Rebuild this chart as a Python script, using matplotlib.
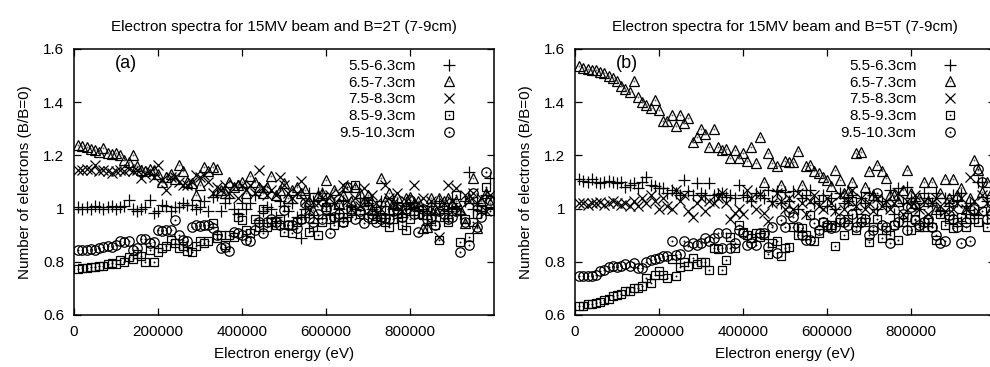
import numpy as np
import matplotlib
matplotlib.use('Agg')
import matplotlib.pyplot as plt

plt.rcParams['font.family'] = ['Liberation Sans', 'DejaVu Sans']

# electron energy grid (eV), one point every 10 keV
energy = np.arange(10000, 1000000, 10000)

labels = ['5.5-6.3cm', '6.5-7.3cm', '7.5-8.3cm', '8.5-9.3cm', '9.5-10.3cm']
titles = ['Electron spectra for 15MV beam and B=2T (7-9cm)',
          'Electron spectra for 15MV beam and B=5T (7-9cm)']
panel_tags = ['(a)', '(b)']
x_ticks = [0, 200000, 400000, 600000, 800000]
y_ticks = [0.6, 0.8, 1.0, 1.2, 1.4, 1.6]
y_tick_labels = ['0.6', '0.8', '1', '1.2', '1.4', '1.6']

# ---- panel (a): B = 2T ----
a_plus = [1.005, 1.0, 1.005, 1.0, 1.01, 1.005, 1.0, 1.005, 1.01, 1.0,
          1.005, 1.01, 1.032, 1.0, 0.99, 1.0, 1.005, 1.032, 0.982, 0.99,
          1.013, 1.01, 0.99, 1.007, 1.007, 1.02, 1.013, 1.013, 1.0, 1.007,
          1.03, 0.99, 1.045, 1.05, 0.99, 1.02, 1.04, 1.0, 0.98, 1.02,
          1.0, 1.02, 1.05, 0.957, 0.99, 1.007, 1.0, 0.97, 1.03, 1.01,
          0.99, 1.02, 0.97, 0.888, 1.0, 1.057, 1.03, 1.06, 1.057, 1.01,
          0.98, 1.02, 1.0, 1.03, 0.97, 1.01, 1.0, 1.04, 0.98, 1.02,
          1.0, 0.99, 1.03, 1.01, 0.98, 1.0, 1.02, 0.97, 1.01, 1.0,
          1.02, 0.99, 1.0, 0.94, 1.01, 0.98, 1.03, 1.0, 0.99, 1.02,
          1.0, 0.98, 1.03, 1.139, 1.0, 1.02, 0.99, 1.05, 1.114]
a_tri = [1.239, 1.235, 1.23, 1.225, 1.22, 1.214, 1.227, 1.21, 1.205, 1.208,
         1.2, 1.183, 1.175, 1.2, 1.16, 1.145, 1.14, 1.15, 1.145, 1.13,
         1.1, 1.12, 1.13, 1.11, 1.164, 1.14, 1.1, 1.095, 1.051, 1.09,
         1.158, 1.14, 1.158, 1.15, 1.07, 1.06, 1.1, 1.08, 1.09, 1.1,
         1.06, 1.123, 1.1, 1.08, 1.06, 1.08, 1.123, 1.05, 1.07, 1.097,
         1.04, 1.07, 1.08, 1.06, 1.07, 1.03, 0.995, 1.05, 1.06, 1.108,
         1.04, 1.07, 1.02, 1.05, 1.08, 1.03, 1.08, 1.06, 1.03, 1.05,
         1.0, 0.976, 1.114, 1.03, 1.06, 1.02, 1.045, 1.0, 1.04, 1.045,
         1.02, 1.03, 0.926, 0.93, 1.04, 1.0, 1.04, 1.03, 1.04, 1.02,
         1.03, 1.0, 0.946, 1.04, 1.114, 0.926, 1.03, 1.06, 1.02]
a_cross = [1.145, 1.145, 1.15, 1.145, 1.164, 1.14, 1.145, 1.14, 1.135, 1.14,
           1.145, 1.14, 1.15, 1.14, 1.145, 1.114, 1.13, 1.14, 1.12, 1.164,
           1.107, 1.07, 1.12, 1.12, 1.1, 1.09, 1.09, 1.1, 1.126, 1.12,
           1.126, 1.1, 1.057, 1.08, 1.07, 1.09, 1.06, 1.09, 1.04, 1.09,
           1.07, 1.09, 1.06, 1.145, 1.08, 1.05, 1.07, 1.05, 1.12, 1.09,
           1.057, 1.04, 1.06, 1.105, 1.03, 1.0, 1.026, 1.02, 1.04, 1.03,
           1.05, 1.02, 1.06, 1.09, 1.03, 1.0, 1.04, 1.01, 1.076, 1.03,
           1.05, 1.02, 1.0, 1.09, 1.04, 1.02, 1.06, 0.99, 1.03, 1.01,
           1.09, 1.02, 1.04, 1.0, 1.03, 0.99, 0.894, 1.02, 1.09, 1.03,
           1.076, 1.0, 1.05, 1.03, 1.06, 1.02, 1.04, 0.99, 1.05]
a_square = [0.773, 0.775, 0.775, 0.78, 0.78, 0.785, 0.785, 0.79, 0.795, 0.79,
            0.807, 0.8, 0.819, 0.81, 0.829, 0.82, 0.8, 0.844, 0.8, 0.838,
            0.85, 0.86, 0.882, 0.87, 0.85, 0.86, 0.84, 0.838, 0.86, 0.88,
            0.87, 0.88, 0.945, 0.89, 0.9, 0.863, 0.9, 0.894, 0.97, 0.957,
            0.92, 0.907, 0.96, 0.93, 1.0, 0.932, 0.95, 0.938, 0.96, 0.913,
            0.94, 0.907, 0.95, 0.96, 0.982, 0.913, 0.93, 0.9, 0.95, 1.007,
            0.96, 0.938, 0.97, 0.95, 0.97, 0.99, 1.09, 0.98, 1.026, 1.03,
            0.96, 0.99, 0.97, 0.95, 0.932, 0.96, 0.98, 0.94, 0.92, 0.96,
            0.99, 0.98, 0.976, 0.976, 0.96, 0.94, 0.882, 0.97, 0.95, 0.99,
            1.051, 0.876, 0.96, 0.894, 0.951, 0.98, 1.0, 1.082, 0.99]
a_circle = [0.844, 0.845, 0.845, 0.848, 0.845, 0.85, 0.855, 0.86, 0.855, 0.865,
            0.878, 0.875, 0.88, 0.844, 0.85, 0.884, 0.885, 0.87, 0.875, 0.92,
            0.915, 0.92, 0.92, 0.957, 0.9, 0.882, 0.88, 0.93, 0.938, 0.935,
            0.94, 0.938, 0.926, 0.9, 0.85, 0.857, 0.84, 0.913, 0.91, 0.9,
            0.882, 0.88, 0.92, 0.951, 0.907, 0.951, 0.96, 0.95, 0.94, 0.995,
            0.938, 0.94, 0.926, 0.96, 1.02, 0.963, 0.95, 0.98, 0.96, 1.0,
            0.907, 0.97, 0.98, 0.95, 1.082, 1.0, 0.96, 0.99, 0.945, 0.97,
            0.98, 0.95, 0.96, 0.963, 0.96, 0.99, 1.0, 0.97, 1.0, 1.032,
            0.98, 0.913, 1.0, 0.96, 0.97, 0.938, 0.99, 0.98, 0.96, 0.97,
            0.99, 0.838, 0.95, 0.863, 1.057, 0.932, 0.97, 1.139, 1.032]

# ---- panel (b): B = 5T ----
b_plus = [1.11, 1.105, 1.1, 1.11, 1.1, 1.095, 1.1, 1.105, 1.1, 1.095,
          1.1, 1.08, 1.09, 1.095, 1.077, 1.1, 1.12, 1.09, 1.084, 1.078,
          1.078, 1.057, 1.07, 1.06, 1.05, 1.107, 1.065, 1.05, 1.096, 1.06,
          1.05, 1.095, 1.05, 1.055, 1.06, 1.045, 1.05, 1.04, 1.09, 1.05,
          1.045, 1.03, 1.06, 1.05, 1.04, 1.07, 1.03, 1.067, 1.02, 1.064,
          1.03, 1.067, 1.0, 1.04, 1.05, 1.07, 1.02, 1.03, 1.05, 1.01,
          1.04, 1.0, 1.06, 1.02, 1.03, 1.05, 1.0, 1.04, 1.02, 1.06,
          1.05, 1.0, 1.03, 1.01, 1.07, 0.98, 1.077, 1.02, 1.08, 1.04,
          1.03, 1.0, 1.06, 1.04, 1.02, 1.057, 0.99, 1.04, 1.01, 1.05,
          1.03, 1.06, 1.01, 1.02, 0.98, 1.1, 1.1, 1.03, 1.05]
b_tri = [1.535, 1.53, 1.525, 1.52, 1.52, 1.515, 1.51, 1.5, 1.49, 1.48,
         1.46, 1.45, 1.44, 1.48, 1.42, 1.4, 1.39, 1.38, 1.41, 1.37,
         1.33, 1.33, 1.35, 1.31, 1.35, 1.32, 1.34, 1.25, 1.27, 1.3,
         1.28, 1.23, 1.3, 1.23, 1.22, 1.225, 1.19, 1.22, 1.19, 1.21,
         1.18, 1.23, 1.17, 1.27, 1.1, 1.21, 1.17, 1.16, 1.09, 1.18,
         1.175, 1.175, 1.215, 1.09, 1.16, 1.165, 1.14, 1.135, 1.12, 1.107,
         1.085, 1.145, 1.107, 1.06, 1.064, 1.1, 1.21, 1.214, 1.08, 1.14,
         1.05, 1.164, 1.14, 1.115, 1.05, 1.05, 1.03, 1.07, 1.145, 1.06,
         1.02, 1.04, 1.1, 1.03, 1.1, 1.0, 1.06, 1.11, 1.04, 1.11,
         1.05, 1.077, 1.0, 1.04, 1.183, 1.145, 1.064, 1.1, 1.06]
b_cross = [1.02, 1.02, 1.015, 1.02, 1.02, 1.025, 1.015, 1.02, 1.03, 1.02,
           1.015, 1.02, 1.01, 1.03, 1.01, 1.04, 1.02, 1.05, 1.03, 1.0,
           1.04, 1.01, 1.0, 1.07, 1.03, 1.05, 0.99, 0.97, 1.02, 1.04,
           0.99, 1.03, 1.02, 1.04, 1.06, 1.02, 0.96, 0.985, 1.0, 0.98,
           1.07, 1.04, 1.0, 1.055, 0.985, 0.955, 1.02, 1.06, 1.03, 1.0,
           1.04, 1.0, 1.06, 1.02, 0.98, 1.03, 1.05, 1.01, 1.0, 1.04,
           1.02, 0.99, 1.05, 1.0, 1.03, 1.07, 1.01, 1.04, 1.0, 1.02,
           0.99, 1.04, 1.01, 1.03, 1.0, 1.02, 1.06, 0.98, 1.03, 1.01,
           1.05, 1.0, 1.03, 0.98, 1.02, 1.04, 1.01, 0.99, 1.03, 1.0,
           1.02, 1.04, 1.0, 1.12, 1.03, 0.99, 1.05, 1.02, 1.0]
b_square = [0.633, 0.635, 0.64, 0.642, 0.645, 0.65, 0.657, 0.66, 0.67, 0.675,
            0.68, 0.69, 0.69, 0.7, 0.7, 0.71, 0.74, 0.72, 0.75, 0.765,
            0.75, 0.74, 0.81, 0.745, 0.78, 0.8, 0.785, 0.814, 0.79, 0.8,
            0.8, 0.77, 0.852, 0.847, 0.77, 0.807, 0.894, 0.85, 0.938, 0.913,
            0.9, 0.89, 0.91, 0.894, 0.9, 0.83, 0.87, 0.88, 0.82, 0.85,
            0.857, 0.93, 0.9, 0.926, 0.9, 0.976, 0.88, 0.91, 0.95, 0.93,
            0.94, 0.86, 0.95, 0.9, 0.96, 1.03, 0.92, 0.964, 0.95, 0.876,
            0.93, 0.96, 0.888, 0.92, 0.9, 0.94, 0.882, 0.95, 0.97, 0.92,
            0.96, 0.93, 0.93, 0.95, 0.93, 0.882, 0.98, 0.94, 0.96, 0.926,
            0.95, 0.97, 0.93, 0.98, 0.96, 0.95, 0.99, 0.93, 0.96]
b_circle = [0.745, 0.745, 0.745, 0.748, 0.75, 0.764, 0.77, 0.78, 0.783, 0.78,
            0.784, 0.79, 0.784, 0.795, 0.777, 0.775, 0.8, 0.805, 0.81, 0.814,
            0.82, 0.82, 0.88, 0.825, 0.83, 0.88, 0.858, 0.87, 0.865, 0.87,
            0.888, 0.88, 0.89, 0.908, 0.85, 0.907, 0.85, 0.87, 0.92, 0.907,
            0.863, 0.87, 0.863, 0.907, 0.91, 0.857, 0.932, 0.832, 0.957, 0.932,
            0.988, 0.97, 0.93, 0.9, 0.882, 0.882, 0.945, 0.92, 0.95, 0.94,
            0.926, 0.93, 0.96, 0.95, 0.94, 0.98, 0.93, 0.95, 0.96, 0.9,
            0.92, 1.057, 0.94, 0.93, 0.87, 0.94, 0.95, 0.98, 0.92, 1.007,
            0.957, 0.94, 0.95, 0.96, 0.93, 0.9, 0.87, 0.88, 0.976, 0.96,
            0.93, 0.87, 0.95, 0.88, 1.0, 1.15, 1.1, 0.96, 0.98]


def draw_series(ax, y, kind):
    """Draws one series in gnuplot-like point style, returns legend handle."""
    if kind == 'plus':
        h, = ax.plot(energy, y, ls='none', marker='+', ms=8, mew=0.9, color='black')
        return h
    if kind == 'cross':
        h, = ax.plot(energy, y, ls='none', marker='x', ms=6.5, mew=0.9, color='black')
        return h
    marker = {'tri': '^', 'square': 's', 'circle': 'o'}[kind]
    ms = {'tri': 7, 'square': 6.2, 'circle': 6.8}[kind]
    dot_col = '#666666' if kind == 'tri' else 'black'
    h1, = ax.plot(energy, y, ls='none', marker=marker, ms=ms, mew=0.9,
                  mfc='none', mec='black')
    h2, = ax.plot(energy, y, ls='none', marker='o', ms=1.4, mew=0,
                  color=dot_col)
    return (h1, h2)


fig = plt.figure(figsize=(9.9, 3.67), dpi=100)
ax_a = fig.add_axes([0.0747, 0.1417, 0.4242, 0.7248])
ax_b = fig.add_axes([0.5808, 0.1417, 0.4242, 0.7248])

panels = [(ax_a, [a_plus, a_tri, a_cross, a_square, a_circle]),
          (ax_b, [b_plus, b_tri, b_cross, b_square, b_circle])]
kinds = ['plus', 'tri', 'cross', 'square', 'circle']

for i, (ax, series) in enumerate(panels):
    handles = [draw_series(ax, y, k) for y, k in zip(series, kinds)]
    ax.set_xlim(0, 1000000)
    ax.set_ylim(0.6, 1.6)
    ax.set_xticks(x_ticks)
    ax.set_xticklabels([str(t) for t in x_ticks])
    ax.set_yticks(y_ticks)
    ax.set_yticklabels(y_tick_labels)
    ax.tick_params(direction='in', length=5, width=0.9, top=True, right=True,
                   labelsize=11)
    ax.tick_params(axis='x', pad=7)
    ax.tick_params(axis='y', pad=7)
    for sp in ax.spines.values():
        sp.set_linewidth(1.1)
    ax.set_title(titles[i], fontsize=11, pad=13)
    ax.set_xlabel('Electron energy (eV)', fontsize=11, labelpad=6)
    ax.set_ylabel('Number of electrons (B/B=0)', fontsize=11, labelpad=8)
    ax.text(0.124, 0.945, panel_tags[i], transform=ax.transAxes,
            ha='center', va='center', fontsize=13)
    ax.legend(handles, labels, loc='upper right', bbox_to_anchor=(0.935, 1.0),
              markerfirst=False, frameon=False, fontsize=11,
              handlelength=1.0, handletextpad=1.7, labelspacing=0.18,
              borderaxespad=0.25)

fig.savefig('out.png', dpi=100)
